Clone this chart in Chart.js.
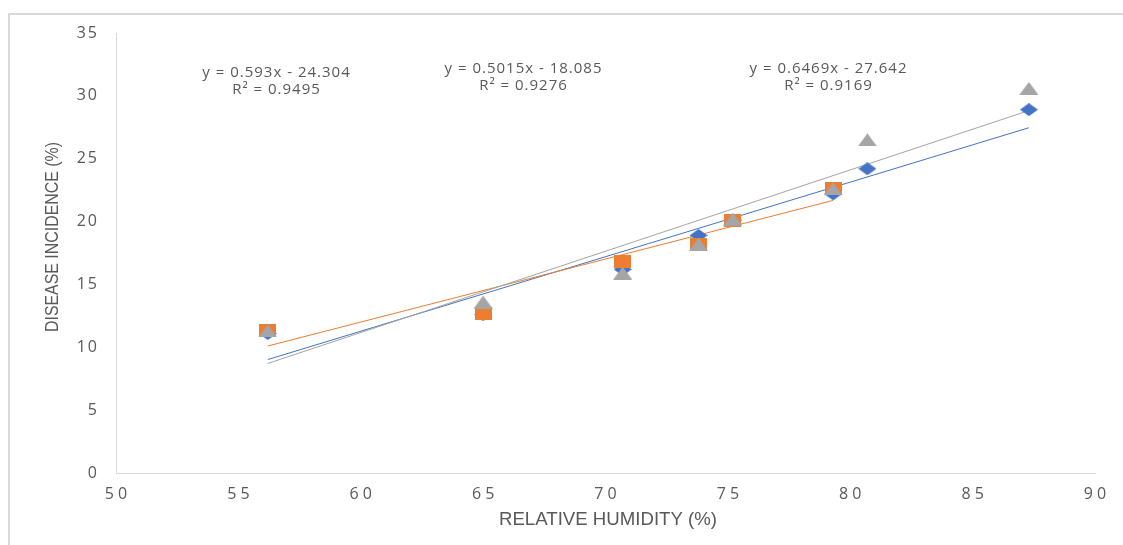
<!DOCTYPE html>
<html>
<head>
<meta charset="utf-8">
<script src="https://cdn.jsdelivr.net/npm/chart.js@4.4.1/dist/chart.umd.min.js"></script>
<style>
  html, body { margin: 0; padding: 0; background: #ffffff; }
  #wrap { position: relative; width: 1123px; height: 545px; }
  canvas { display: block; }
</style>
</head>
<body>
<div id="wrap"><canvas id="chart" width="1123" height="545"></canvas></div>
<script>
// Axis ticks
const xTicks = [50, 55, 60, 65, 70, 75, 80, 85, 90];
const yTicks = [0, 5, 10, 15, 20, 25, 30, 35];

// Observations: relative humidity (%) vs disease incidence (%)
const humidityBlue    = [56.2, 65.0, 70.7, 73.8, 75.2, 79.3, 80.7, 87.3];
const incidenceBlue   = [11.1, 12.6, 16.2, 18.9, 20.1, 22.2, 24.2, 28.9];
const humidityOrange  = [56.2, 65.0, 70.7, 73.8, 75.2, 79.3];
const incidenceOrange = [11.3, 12.7, 16.8, 18.2, 20.1, 22.6];
const humidityGray    = [56.2, 65.0, 70.7, 73.8, 75.2, 79.3, 80.7, 87.3];
const incidenceGray   = [11.3, 13.6, 15.9, 18.2, 20.2, 22.6, 26.5, 30.6];

// Linear trendlines (slope, intercept, R²) for blue, orange, gray
const trendSlope     = [0.593, 0.5015, 0.6469];
const trendIntercept = [-24.304, -18.085, -27.642];
const trendR2        = [0.9495, 0.9276, 0.9169];

const BLUE = '#4472C4', ORANGE = '#ED7D31', GRAY = '#A5A5A5';
const TEXT = '#595959', AXIS = '#D9D9D9';
const TICK_FONT = '16px "Open Sans", sans-serif';
const TITLE_FONT = '19px "Liberation Sans Narrow", "Liberation Sans", sans-serif';

function pairs(xs, ys) { return xs.map((x, i) => ({ x: x, y: ys[i] })); }

function trendPoints(xs, k) {
  const lo = Math.min(...xs), hi = Math.max(...xs);
  return [lo, hi].map(x => ({ x: x, y: trendSlope[k] * x + trendIntercept[k] }));
}

// Marker bitmaps (slightly wider than tall)
function marker(kind, w, h, color) {
  const c = document.createElement('canvas');
  c.width = w; c.height = h;
  const g = c.getContext('2d');
  g.fillStyle = color;
  g.beginPath();
  if (kind === 'diamond') {
    g.moveTo(w / 2, 0); g.lineTo(w, h / 2); g.lineTo(w / 2, h); g.lineTo(0, h / 2);
  } else if (kind === 'triangle') {
    g.moveTo(w / 2, 0); g.lineTo(w, h); g.lineTo(0, h);
  } else {
    g.rect(0, 0, w, h);
  }
  g.closePath();
  g.fill();
  return c;
}

const diamond  = marker('diamond', 18, 13, BLUE);
const square   = marker('square', 17, 13, ORANGE);
const triangle = marker('triangle', 19, 13, GRAY);

function eqText(k) {
  const b = trendIntercept[k];
  return 'y = ' + trendSlope[k] + 'x ' + (b < 0 ? '- ' : '+ ') + Math.abs(b).toFixed(3);
}

// Centered text with extra tracking (trailing gap compensated)
function spacedText(ctx, text, x, y, spacing) {
  ctx.letterSpacing = spacing + 'px';
  ctx.fillText(text, x + spacing / 2, y);
  ctx.letterSpacing = '0px';
}

// Centered, horizontally condensed text fitted to a given run length
function condensedText(ctx, text, x, y, width) {
  const sx = width / ctx.measureText(text).width;
  ctx.save();
  ctx.translate(x, y);
  ctx.scale(sx, 1);
  ctx.fillText(text, 0, 0);
  ctx.restore();
}

const framePlugin = {
  id: 'framePlugin',
  beforeDraw(chart) {
    const ctx = chart.ctx;
    ctx.save();
    ctx.fillStyle = '#ffffff';
    ctx.fillRect(0, 0, chart.width, chart.height);
    ctx.strokeStyle = AXIS;
    ctx.lineWidth = 2;
    ctx.strokeRect(9, 14, chart.width + 20, chart.height + 20);
    ctx.restore();
    // tracking for the value-axis labels drawn by the scale
    ctx.letterSpacing = '2px';
  },
  beforeDatasetsDraw(chart) {
    chart.ctx.letterSpacing = '0px';
  },
  afterDraw(chart) {
    const ctx = chart.ctx;
    ctx.save();
    ctx.fillStyle = TEXT;
    ctx.textAlign = 'center';
    ctx.textBaseline = 'middle';
    // humidity tick labels
    ctx.font = TICK_FONT;
    const xs = chart.scales.x;
    xTicks.forEach(v => spacedText(ctx, String(v), xs.getPixelForValue(v), 494, 4));
    // trendline equations
    ctx.font = '15px "Open Sans", sans-serif';
    const spots = [[276, 73, 90], [523, 69, 86], [828, 69, 86]];
    spots.forEach((p, k) => {
      spacedText(ctx, eqText(k), p[0], p[1], 1);
      spacedText(ctx, 'R\u00B2 = ' + trendR2[k], p[0], p[2], 1);
    });
    // axis titles
    ctx.font = TITLE_FONT;
    condensedText(ctx, 'RELATIVE HUMIDITY (%)', 608, 520, 218);
    ctx.translate(53, 237);
    ctx.rotate(-Math.PI / 2);
    condensedText(ctx, 'DISEASE INCIDENCE (%)', 0, 0, 190);
    ctx.restore();
  }
};

const ctx = document.getElementById('chart').getContext('2d');
new Chart(ctx, {
  type: 'scatter',
  data: {
    datasets: [
      { label: 'Blue trend', type: 'line', data: trendPoints(humidityBlue, 0),
        borderColor: BLUE, borderWidth: 1, pointRadius: 0, fill: false, order: 6 },
      { label: 'Orange trend', type: 'line', data: trendPoints(humidityOrange, 1),
        borderColor: ORANGE, borderWidth: 1, pointRadius: 0, fill: false, order: 5 },
      { label: 'Gray trend', type: 'line', data: trendPoints(humidityGray, 2),
        borderColor: GRAY, borderWidth: 1, pointRadius: 0, fill: false, order: 4 },
      { label: 'Blue', data: pairs(humidityBlue, incidenceBlue),
        pointStyle: diamond, order: 3 },
      { label: 'Orange', data: pairs(humidityOrange, incidenceOrange),
        pointStyle: square, order: 2 },
      { label: 'Gray', data: pairs(humidityGray, incidenceGray),
        pointStyle: triangle, order: 1 }
    ]
  },
  options: {
    responsive: false,
    animation: false,
    events: [],
    layout: { padding: { left: 0, top: 33, right: 28, bottom: 0 } },
    plugins: { legend: { display: false }, tooltip: { enabled: false } },
    scales: {
      x: {
        type: 'linear', min: 50, max: 90,
        afterBuildTicks(scale) { scale.ticks = xTicks.map(v => ({ value: v })); },
        afterFit(scale) { scale.height = 72; },
        grid: { display: false, drawTicks: false },
        border: { display: true, color: AXIS, width: 1 },
        ticks: { display: false }
      },
      y: {
        type: 'linear', min: 0, max: 35,
        afterBuildTicks(scale) { scale.ticks = yTicks.map(v => ({ value: v })); },
        afterFit(scale) { scale.width = 116; },
        grid: { display: false, drawTicks: false },
        border: { display: true, color: AXIS, width: 1 },
        ticks: { color: TEXT, padding: 17, font: { family: '"Open Sans", sans-serif', size: 16 } }
      }
    }
  },
  plugins: [framePlugin]
});
</script>
</body>
</html>
